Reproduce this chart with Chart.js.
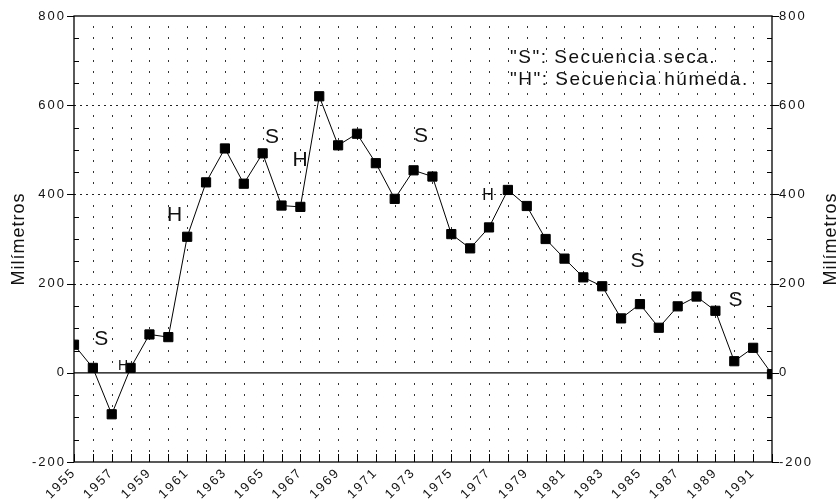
<!DOCTYPE html>
<html>
<head>
<meta charset="utf-8">
<script src="https://cdn.jsdelivr.net/npm/chart.js@4/dist/chart.umd.min.js"></script>
<style>
  html, body { margin: 0; padding: 0; background: #fff; }
  #wrap { width: 839px; height: 500px; }
</style>
</head>
<body>
<div id="wrap"><canvas id="c" width="839" height="500"></canvas></div>
<script>
// Annual rainfall anomaly series (mm), 1955-1992
const years = [1955, 1956, 1957, 1958, 1959, 1960, 1961, 1962, 1963, 1964,
               1965, 1966, 1967, 1968, 1969, 1970, 1971, 1972, 1973, 1974,
               1975, 1976, 1977, 1978, 1979, 1980, 1981, 1982, 1983, 1984,
               1985, 1986, 1987, 1988, 1989, 1990, 1991, 1992];
const rainfall = [63, 11, -93, 11, 86, 80, 305, 427, 503, 424,
                  492, 375, 372, 620, 510, 536, 470, 390, 454, 440,
                  311, 279, 326, 410, 374, 300, 256, 214, 194, 122,
                  154, 101, 149, 171, 139, 26, 56, -3];

// Axis tick labels
const yearLabels = [1955, 1957, 1959, 1961, 1963, 1965, 1967, 1969, 1971, 1973,
                    1975, 1977, 1979, 1981, 1983, 1985, 1987, 1989, 1991];
const mmTicks = [-200, 0, 200, 400, 600, 800];

// Dry ("S") / wet ("H") sequence markers, placed in data units
const seqText   = ['S', 'H', 'H', 'S', 'H', 'S', 'H', 'S', 'S'];
const seqYear   = [1956.45, 1957.6, 1960.33, 1965.5, 1966.98, 1973.39, 1976.95, 1984.87, 1990.07];
const seqValue  = [76, 15, 353, 529, 477, 531, 397, 251, 162];
const seqSize   = [21, 14, 21, 21, 21, 21, 16, 21, 21];

const legendLines = ['"S": Secuencia seca.', '"H": Secuencia húmeda.'];
const axisTitle = 'Milímetros';

const FONT = '"Liberation Sans", Arial, Helvetica, sans-serif';

const framePlugin = {
  id: 'frame',
  // wide spacing for the tick labels drawn by the scales
  beforeLayout(chart) { chart.ctx.letterSpacing = '2px'; },
  beforeDraw(chart) { chart.ctx.letterSpacing = '2px'; },
  beforeDatasetsDraw(chart) {
    const { ctx, chartArea: a, scales } = chart;
    const x = scales.x, y = scales.y;
    ctx.letterSpacing = '0px';
    ctx.save();

    // dotted year columns
    ctx.fillStyle = '#333';
    for (let i = 1; i < years.length - 1; i++) {
      const px = Math.round(x.getPixelForValue(years[i]));
      for (let v = -175; v < 800; v += 25) {
        if (v % 200 === 0) continue;
        const py = Math.round(y.getPixelForValue(v));
        ctx.fillRect(px, py - 1, 1, 2);
      }
    }

    // dotted horizontal lines at the labelled levels
    ctx.strokeStyle = '#222';
    ctx.lineWidth = 1;
    ctx.setLineDash([2, 4]);
    [200, 400, 600].forEach(v => {
      const py = Math.round(y.getPixelForValue(v)) + 0.5;
      ctx.beginPath(); ctx.moveTo(a.left, py); ctx.lineTo(a.right, py); ctx.stroke();
    });
    ctx.setLineDash([]);

    // zero line
    ctx.strokeStyle = '#000';
    ctx.lineWidth = 1.3;
    const z = y.getPixelForValue(0);
    ctx.beginPath(); ctx.moveTo(a.left, z); ctx.lineTo(a.right, z); ctx.stroke();

    // frame
    ctx.lineWidth = 1.3;
    ctx.strokeRect(a.left, a.top, a.right - a.left, a.bottom - a.top);

    // axis ticks
    ctx.lineWidth = 1;
    for (let v = -200; v <= 800; v += 50) {
      const py = Math.round(y.getPixelForValue(v)) + 0.5;
      ctx.beginPath();
      if (v % 200 === 0) {
        ctx.moveTo(a.left - 7, py); ctx.lineTo(a.left, py);
        ctx.moveTo(a.right, py); ctx.lineTo(a.right + 7, py);
      } else {
        ctx.moveTo(a.left, py); ctx.lineTo(a.left + 5, py);
        ctx.moveTo(a.right - 5, py); ctx.lineTo(a.right, py);
      }
      ctx.stroke();
    }
    years.forEach(yr => {
      const px = Math.round(x.getPixelForValue(yr)) + 0.5;
      ctx.beginPath(); ctx.moveTo(px, a.bottom); ctx.lineTo(px, a.bottom - 8); ctx.stroke();
    });
    ctx.restore();
  },
  afterDraw(chart) {
    const { ctx, chartArea: a, scales } = chart;
    const x = scales.x, y = scales.y;
    ctx.save();
    ctx.fillStyle = '#111';
    ctx.textAlign = 'center';
    ctx.textBaseline = 'middle';
    ctx.letterSpacing = '0px';

    // sequence markers
    seqText.forEach((t, i) => {
      ctx.font = seqSize[i] + 'px ' + FONT;
      ctx.fillText(t, x.getPixelForValue(seqYear[i]), y.getPixelForValue(seqValue[i]));
    });

    // key
    ctx.font = '19px ' + FONT;
    ctx.textAlign = 'left';
    ctx.letterSpacing = '1.5px';
    ctx.fillText(legendLines[0], 510, 58);
    ctx.fillText(legendLines[1], 510, 80);

    // axis titles, both reading bottom to top
    ctx.font = '18px ' + FONT;
    ctx.letterSpacing = '1px';
    ctx.textAlign = 'center';
    const cy = (a.top + a.bottom) / 2;
    [19, 831].forEach(cx => {
      ctx.save();
      ctx.translate(cx, cy);
      ctx.rotate(-Math.PI / 2);
      ctx.fillText(axisTitle, 0, 0);
      ctx.restore();
    });
    ctx.restore();
    ctx.letterSpacing = '0px';
  }
};

const tickFont = { family: FONT, size: 13 };

new Chart(document.getElementById('c'), {
  type: 'line',
  data: {
    datasets: [{
      data: years.map((yr, i) => ({ x: yr, y: rainfall[i] })),
      borderColor: '#000',
      borderWidth: 1,
      tension: 0,
      pointStyle: 'rect',
      pointRadius: 6.5,
      pointBackgroundColor: '#000',
      pointBorderColor: '#000',
      pointBorderWidth: 1
    }]
  },
  options: {
    responsive: false,
    animation: false,
    devicePixelRatio: 1,
    layout: { padding: { top: 16, left: 0, right: 0, bottom: 0 } },
    plugins: { legend: { display: false }, tooltip: { enabled: false } },
    scales: {
      x: {
        type: 'linear',
        min: 1955,
        max: 1992,
        afterBuildTicks: s => { s.ticks = yearLabels.map(v => ({ value: v })); },
        afterFit: s => { s.height = 38; },
        grid: { display: false, drawTicks: false },
        border: { display: false },
        ticks: {
          autoSkip: false,
          minRotation: 45,
          maxRotation: 45,
          padding: 3,
          color: '#111',
          font: tickFont,
          callback: v => String(v)
        }
      },
      y: {
        position: 'left',
        min: -200,
        max: 800,
        afterBuildTicks: s => { s.ticks = mmTicks.map(v => ({ value: v })); },
        afterFit: s => { s.width = 74; },
        grid: { display: false, drawTicks: false },
        border: { display: false },
        ticks: { padding: 8, color: '#111', font: tickFont }
      },
      y2: {
        position: 'right',
        min: -200,
        max: 800,
        afterBuildTicks: s => { s.ticks = mmTicks.map(v => ({ value: v })); },
        afterFit: s => { s.width = 67; },
        grid: { display: false, drawTicks: false },
        border: { display: false },
        ticks: { padding: 7, color: '#111', font: tickFont }
      }
    }
  },
  plugins: [framePlugin]
});
</script>
</body>
</html>
